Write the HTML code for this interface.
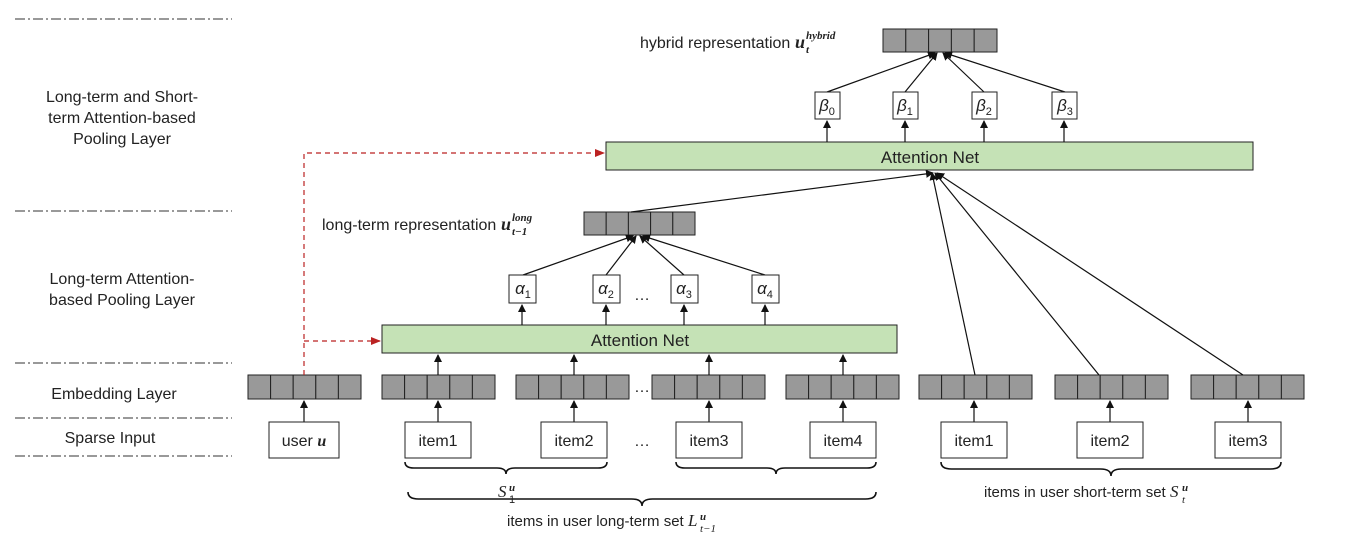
<!DOCTYPE html>
<html><head><meta charset="utf-8"><style>
body{margin:0;background:#fff}
svg text{font-family:"Liberation Sans",sans-serif;fill:#222}
.m{font-family:"Liberation Serif",serif;font-style:italic}
</style></head><body>
<svg id="s" width="1346" height="533" xmlns="http://www.w3.org/2000/svg">
<defs>
<marker id="a" markerWidth="8" markerHeight="8" refX="7" refY="4" orient="auto" markerUnits="userSpaceOnUse"><path d="M0,0 L8,4 L0,8z" fill="#111"/></marker>
<marker id="r" markerWidth="10" markerHeight="8" refX="9" refY="4" orient="auto" markerUnits="userSpaceOnUse"><path d="M0,0 L10,4 L0,8z" fill="#b22"/></marker>
</defs>
<g stroke="#333" stroke-dasharray="10,3,2,3" stroke-width="1">
<line x1="15" y1="19" x2="232" y2="19"/><line x1="15" y1="211" x2="232" y2="211"/>
<line x1="15" y1="363" x2="232" y2="363"/><line x1="15" y1="418" x2="232" y2="418"/>
<line x1="15" y1="456" x2="232" y2="456"/>
</g>
<g font-size="16">
<text x="122" y="102" text-anchor="middle">Long-term and Short-</text>
<text x="122" y="123" text-anchor="middle">term Attention-based</text>
<text x="122" y="144" text-anchor="middle">Pooling  Layer</text>
<text x="122" y="284" text-anchor="middle">Long-term Attention-</text>
<text x="122" y="305" text-anchor="middle">based Pooling  Layer</text>
<text x="114" y="399" text-anchor="middle">Embedding  Layer</text>
<text x="110" y="443" text-anchor="middle">Sparse Input</text>
</g>
<rect x="606" y="142" width="647" height="28" fill="#c5e2b6" stroke="#222"/>
<text x="930" y="163" font-size="17" text-anchor="middle">Attention Net</text>
<rect x="382" y="325" width="515" height="28" fill="#c5e2b6" stroke="#222"/>
<text x="640" y="346" font-size="17" text-anchor="middle">Attention Net</text>
<g id="vec"></g>
<g id="arr" stroke="#111" stroke-width="1.2" fill="none"></g>
<g font-size="16">
<text x="640" y="48">hybrid representation</text>
<text x="795" y="48" class="m" font-weight="bold" font-size="18">u</text>
<text x="806" y="39" class="m" font-weight="bold" font-size="11">hybrid</text>
<text x="806" y="53" class="m" font-weight="bold" font-size="11">t</text>
<text x="322" y="230">long-term representation</text>
<text x="501" y="230" class="m" font-weight="bold" font-size="18">u</text>
<text x="512" y="221" class="m" font-weight="bold" font-size="11">long</text>
<text x="512" y="235" class="m" font-weight="bold" font-size="11">t−1</text>
</g>
<g id="boxes" fill="#fff" stroke="#222"></g>
<g font-size="16" text-anchor="middle">
<text x="304" y="446">user <tspan class="m" font-weight="bold">u</tspan></text>
<text x="438" y="446">item1</text><text x="574" y="446">item2</text>
<text x="709" y="446">item3</text><text x="843" y="446">item4</text>
<text x="974" y="446">item1</text><text x="1110" y="446">item2</text><text x="1248" y="446">item3</text>
<text x="642" y="300">…</text><text x="642" y="446">…</text><text x="642" y="392">…</text>
</g>
<g class="m" font-size="17" text-anchor="middle">
<text x="827" y="111">β<tspan font-size="11" dy="4" font-style="normal">0</tspan></text>
<text x="905" y="111">β<tspan font-size="11" dy="4" font-style="normal">1</tspan></text>
<text x="984" y="111">β<tspan font-size="11" dy="4" font-style="normal">2</tspan></text>
<text x="1065" y="111">β<tspan font-size="11" dy="4" font-style="normal">3</tspan></text>
<text x="523" y="294">α<tspan font-size="11" dy="4" font-style="normal">1</tspan></text>
<text x="606" y="294">α<tspan font-size="11" dy="4" font-style="normal">2</tspan></text>
<text x="684" y="294">α<tspan font-size="11" dy="4" font-style="normal">3</tspan></text>
<text x="765" y="294">α<tspan font-size="11" dy="4" font-style="normal">4</tspan></text>
</g>
<g fill="none" stroke="#111" stroke-width="1.6" id="br"></g>
<text x="498" y="497" font-size="17" class="m">S</text>
<text x="509" y="491" font-size="11" class="m" font-weight="bold">u</text>
<text x="509" y="503" font-size="11" font-style="normal">1</text>
<text x="984" y="497" font-size="15">items in user short-term set</text>
<text x="1170" y="497" font-size="17" class="m">S</text>
<text x="1182" y="491" font-size="11" class="m" font-weight="bold">u</text>
<text x="1182" y="503" font-size="11" class="m">t</text>
<text x="507" y="526" font-size="15">items in user long-term set</text>
<text x="688" y="526" font-size="17" class="m">L</text>
<text x="700" y="520" font-size="11" class="m" font-weight="bold">u</text>
<text x="700" y="532" font-size="11" class="m">t−1</text>
<g stroke="#b22" stroke-width="1.2" stroke-dasharray="5,4" fill="none">
<polyline points="304,375 304,153 604,153" marker-end="url(#r)"/>
<polyline points="304,341 380,341" marker-end="url(#r)"/>
</g>
</svg>
<script>
const NS="http://www.w3.org/2000/svg";
function el(p,t,a){const e=document.createElementNS(NS,t);for(const k in a)e.setAttribute(k,a[k]);document.getElementById(p).appendChild(e);return e;}
function vec(x,y,w,h){const c=w/5;for(let i=0;i<5;i++)el("vec","rect",{x:x+i*c,y:y,width:c,height:h,fill:"#999",stroke:"#222"});}
vec(883,29,114,23);vec(584,212,111,23);
[248,382,516,652,786,919,1055,1191].forEach(x=>vec(x,375,113,24));
function ar(x1,y1,x2,y2){el("arr","line",{x1,y1,x2,y2,"marker-end":"url(#a)"});}
[815,893,972,1052].forEach(x=>{el("boxes","rect",{x:x,y:92,width:25,height:27});ar(x+12,142,x+12,121);});
[[827,92,935,53],[905,92,937,53],[984,92,943,53],[1065,92,945,53]].forEach(b=>ar(...b));
[509,593,671,752].forEach(x=>{el("boxes","rect",{x:x,y:275,width:27,height:28});ar(x+13,325,x+13,305);});
[[523,275,633,236],[606,275,636,236],[684,275,640,236],[765,275,643,236]].forEach(b=>ar(...b));
[[269,70],[405,66],[541,66],[676,66],[810,66],[941,66],[1077,66],[1215,66]].forEach(([x,w])=>el("boxes","rect",{x:x,y:422,width:w,height:36}));
[304,438,574,709,843,974,1110,1248].forEach(x=>ar(x,422,x,401));
[438,574,709,843].forEach(x=>ar(x,375,x,355));
ar(631,212,933,173);ar(975,375,932,173);ar(1099,375,935,173);ar(1243,375,937,173);
function brace(x1,x2,y,d){const m=(x1+x2)/2;el("br","path",{d:`M${x1},${y} q0,${d} ${d*1.5},${d} L${m-d*1.5},${y+d} q${d*1.5},0 ${d*1.5},${d} q0,-${d} ${d*1.5},-${d} L${x2-d*1.5},${y+d} q${d*1.5},0 ${d*1.5},-${d}`});}
brace(405,607,462,6);brace(676,876,462,6);brace(941,1281,462,7);brace(408,876,492,7);
</script>
</body></html>
